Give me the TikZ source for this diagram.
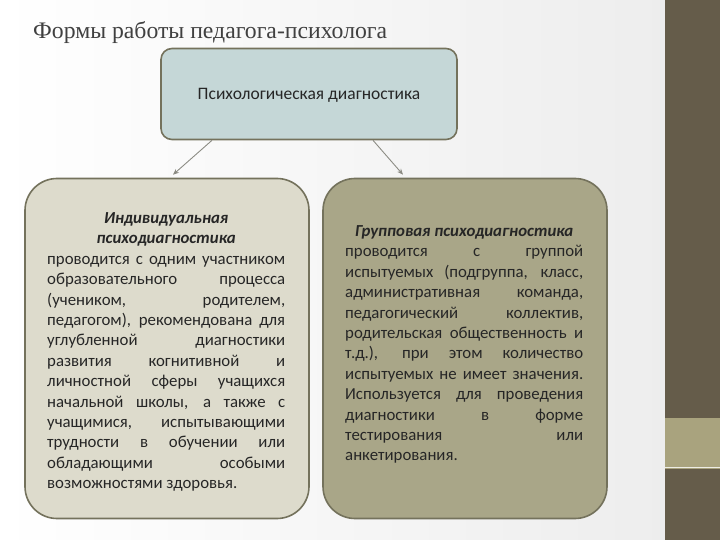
\documentclass[tikz,border=0pt]{standalone}
\usepackage{fontspec}
\setmainfont{Carlito}
\newfontfamily\titlefont{Liberation Serif}
\usetikzlibrary{arrows.meta,calc}
\definecolor{topfill}{HTML}{C5D7D7}
\definecolor{leftfill}{HTML}{DDDBCC}
\definecolor{rightfill}{HTML}{A9A688}
\definecolor{boxborder}{HTML}{74725C}
\definecolor{barbrown}{HTML}{655C4A}
\definecolor{bandtan}{HTML}{A9A37E}
\definecolor{bodytext}{HTML}{262626}
\definecolor{titlegray}{HTML}{404040}
\definecolor{arrowgray}{HTML}{8C8C84}
\newcommand{\myjust}[1]{\makebox[238pt][s]{#1}}
\newcommand{\mycent}[1]{\makebox[238pt][c]{#1}}
\newcommand{\myleft}[1]{\makebox[238pt][l]{#1}}
\tikzset{
  topbox/.style={draw=boxborder, line width=1.6pt, fill=topfill, rounded corners=11pt,
    minimum width=296pt, minimum height=91pt, inner sep=0pt},
  bigbox/.style={draw=boxborder, line width=1.6pt, rounded corners=32pt,
    minimum width=284pt, minimum height=340pt, inner sep=0pt},
  bodytxt/.style={inner sep=0pt, anchor=north west, align=left, text=bodytext,
    font=\fontsize{16.8}{20.4}\selectfont},
  conn/.style={draw=arrowgray, line width=0.9pt, -{Stealth[length=6pt,width=5pt]}},
}
\begin{document}
\begin{tikzpicture}[x=1pt,y=-1pt]
\useasboundingbox (0,0) rectangle (720,540);
\shade[left color=white, right color=black!7] (0,0) rectangle (665,540);
\fill[barbrown] (665,0) rectangle (720,540);
\fill[bandtan] (665,418) rectangle (720,469);
\draw[white!80!bandtan, line width=0.8pt] (665,467) -- (720,467);

\node[anchor=base west, inner sep=0pt, text=titlegray, font=\titlefont\fontsize{23.7}{28}\selectfont] (title) at (33,39) {Формы работы педагога-психолога};

\node[topbox] (top) at (309,94) {};
\node[text=bodytext, font=\fontsize{17.5}{21}\selectfont, inner sep=0pt] (toptext) at (309,95) {Психологическая диагностика};

\node[bigbox, fill=leftfill] (ind) at (167,348.5) {};
\node[bigbox, fill=rightfill] (grp) at (465,348.5) {};

\draw[conn] ([xshift=-97pt]top.south) -- ([xshift=6pt,yshift=3pt]ind.north);
\draw[conn] ([xshift=64pt]top.south) -- ([xshift=-62pt,yshift=3pt]grp.north);

\node[bodytxt] (indtext) at (47,209) {%
\mycent{\strut\textbf{\textit{Индивидуальная}}}\\
\mycent{\textbf{\textit{психодиагностика}}}\\
\myjust{проводится с одним участником}\\
\myjust{образовательного процесса}\\
\myjust{(учеником, родителем,}\\
\myjust{педагогом), рекомендована для}\\
\myjust{углубленной диагностики}\\
\myjust{развития когнитивной и}\\
\myjust{личностной сферы учащихся}\\
\myjust{начальной школы, а также с}\\
\myjust{учащимися, испытывающими}\\
\myjust{трудности в обучении или}\\
\myjust{обладающими особыми}\\
\myleft{возможностями здоровья.}};

\node[bodytxt] (grptext) at (345,222) {%
\mycent{\strut\textbf{\textit{Групповая психодиагностика}}}\\
\myjust{проводится с группой}\\
\myjust{испытуемых (подгруппа, класс,}\\
\myjust{административная команда,}\\
\myjust{педагогический коллектив,}\\
\myjust{родительская общественность и}\\
\myjust{т.д.), при этом количество}\\
\myjust{испытуемых не имеет значения.}\\
\myjust{Используется для проведения}\\
\myjust{диагностики в форме}\\
\myjust{тестирования или}\\
\myleft{анкетирования.}};
\end{tikzpicture}
\end{document}
